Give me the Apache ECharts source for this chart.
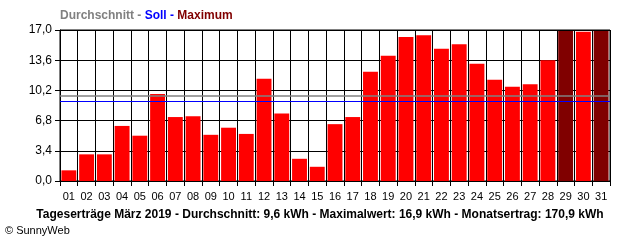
<!DOCTYPE html>
<html>
<head>
<meta charset="utf-8">
<script src="https://cdn.jsdelivr.net/npm/echarts@6/dist/echarts.min.js"></script>
<style>html,body{margin:0;padding:0;background:#fff}#c{width:640px;height:240px}</style>
</head>
<body>
<div id="c"></div>
<script>
const days = ['01','02','03','04','05','06','07','08','09','10','11','12','13','14','15','16','17','18','19','20','21','22','23','24','25','26','27','28','29','30','31'];
const ertrag = [1.2,3.0,3.0,6.2,5.1,9.8,7.2,7.3,5.2,6.0,5.3,11.5,7.6,2.5,1.6,6.4,7.2,12.3,14.1,16.2,16.4,14.9,15.4,13.2,11.4,10.6,10.9,13.6,16.9,16.8,16.9];
const durchschnitt = 9.6;
const soll = 9.0;
const maximum = 16.9;
const yTicks = [0, 3.4, 6.8, 10.2, 13.6, 17.0];
const titleText = 'Tageserträge März 2019 - Durchschnitt: 9,6 kWh - Maximalwert: 16,9 kWh - Monatsertrag: 170,9 kWh';

const font = 'Liberation Sans, Arial, sans-serif';
const chart = echarts.init(document.getElementById('c'), null, {renderer: 'canvas'});
chart.setOption({
  animation: false,
  backgroundColor: '#fff',
  textStyle: {fontFamily: font},
  title: [
    {
      left: 60, top: 10, padding: 0,
      text: '{a|Durchschnitt - }{b|Soll - }{c|Maximum}',
      textStyle: {
        rich: {
          a: {color: '#808080', fontWeight: 'bold', fontSize: 12, fontFamily: font},
          b: {color: '#0000ff', fontWeight: 'bold', fontSize: 12, fontFamily: font},
          c: {color: '#800000', fontWeight: 'bold', fontSize: 12, fontFamily: font}
        }
      }
    },
    {
      left: 320, textAlign: 'center', top: 209, padding: 0,
      text: titleText,
      textStyle: {color: '#000', fontWeight: 'bold', fontSize: 12, fontFamily: font}
    },
    {
      left: 5, top: 225, padding: 0,
      text: '© SunnyWeb',
      textStyle: {color: '#000', fontWeight: 'normal', fontSize: 11, fontFamily: font}
    }
  ],
  grid: {left: 60, right: 30, top: 30, height: 151, show: true, borderColor: '#000', borderWidth: 1, backgroundColor: 'transparent'},
  xAxis: {
    type: 'category',
    data: days,
    boundaryGap: true,
    axisLine: {lineStyle: {color: '#000', width: 1}},
    axisTick: {show: true, length: 5, lineStyle: {color: '#000'}},
    axisLabel: {color: '#000', fontSize: 11, margin: 10, interval: 0, fontFamily: font},
    splitLine: {show: true, interval: 0, lineStyle: {color: '#000', width: 1}}
  },
  yAxis: {
    type: 'value',
    min: 0, max: 17, interval: 3.4,
    axisLine: {show: true, lineStyle: {color: '#000'}},
    axisTick: {show: true, length: 5, lineStyle: {color: '#000'}},
    axisLabel: {color: '#000', fontSize: 12, margin: 8, fontFamily: font,
      formatter: v => v.toFixed(1).replace('.', ',')},
    splitLine: {show: true, lineStyle: {color: '#000', width: 1}}
  },
  series: [{
    type: 'bar',
    barCategoryGap: '16%',
    data: ertrag.map(v => ({value: v, itemStyle: {color: v >= maximum ? '#800000' : '#ff0000'}})),
    markLine: {
      silent: true,
      symbol: 'none',
      label: {show: false},
      z: 10,
      data: [
        {yAxis: durchschnitt, lineStyle: {color: '#808080', width: 1.5, type: 'solid'}},
        {yAxis: soll, lineStyle: {color: '#0000ff', width: 1, type: 'solid'}}
      ]
    }
  }]
});
</script>
</body>
</html>
